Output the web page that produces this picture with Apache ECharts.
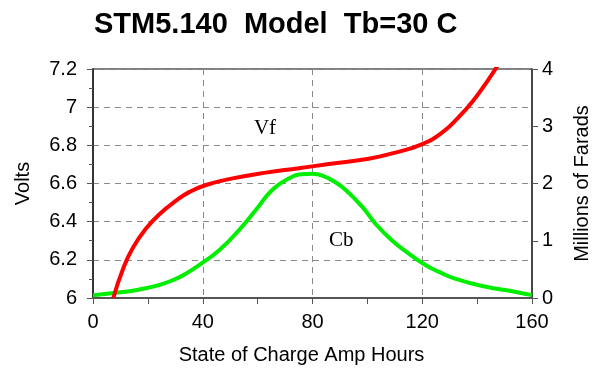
<!DOCTYPE html>
<html>
<head>
<meta charset="utf-8">
<script src="https://cdn.jsdelivr.net/npm/echarts@6/dist/echarts.min.js"></script>
<style>
  html, body { margin: 0; padding: 0; background: #fff; }
  #chart { width: 600px; height: 370px; }
</style>
</head>
<body>
<div id="chart"></div>
<script>
// State of charge (Ah) vs. float voltage Vf (left axis, volts)
const socVf = [7.4, 11, 14.6, 19.4, 24.3, 30.3, 35.2, 41.2, 50.9, 63, 75, 86, 100.5, 110.2, 119.8, 127.1, 133.1, 139.2, 144, 147.6];
const vfValues = [6.0, 6.155, 6.265, 6.365, 6.44, 6.51, 6.556, 6.592, 6.627, 6.657, 6.68, 6.702, 6.73, 6.762, 6.805, 6.865, 6.945, 7.046, 7.142, 7.221];

// State of charge (Ah) vs. bulk capacitance Cb (right axis, millions of farads)
const socCb = [0, 8.6, 17, 24.3, 30, 34, 38.8, 46.1, 53.3, 59.4, 65.4, 71.5, 76, 80, 84, 88, 92, 98, 102.9, 108.9, 115, 121, 125.9, 131.9, 142.8, 153.7, 160];
const cbValues = [0.05, 0.09, 0.15, 0.23, 0.33, 0.43, 0.58, 0.84, 1.19, 1.54, 1.89, 2.09, 2.16, 2.17, 2.13, 2.03, 1.89, 1.60, 1.30, 1.01, 0.78, 0.58, 0.46, 0.34, 0.20, 0.11, 0.05];

const xTicks = { min: 0, max: 160, interval: 40 };
const voltTicks = { min: 6, max: 7.2, interval: 0.2 };
const faradTicks = { min: 0, max: 4, interval: 1 };

const titleText = 'STM5.140  Model  Tb=30 C';

const pairs = (xs, ys) => xs.map((x, i) => [x, ys[i]]);

const sans = 'Liberation Sans';
const dash = { type: [6, 5], color: '#8a8a8a', width: 1 };

const chart = echarts.init(document.getElementById('chart'), null, { renderer: 'canvas' });
chart.setOption({
  animation: false,
  backgroundColor: '#fff',
  title: {
    text: titleText,
    left: 89,
    top: 5,
    textStyle: { fontFamily: sans, fontWeight: 'bold', fontSize: 29, color: '#000' }
  },
  grid: {
    left: 93, right: 66, top: 69, bottom: 72,
    show: true, borderColor: '#000', borderWidth: 1
  },
  xAxis: {
    type: 'value',
    min: xTicks.min, max: xTicks.max, interval: xTicks.interval,
    name: 'State of Charge Amp Hours',
    nameLocation: 'middle',
    nameGap: 47,
    nameTextStyle: { fontFamily: sans, fontSize: 20, color: '#000', padding: [0, 22, 0, 0] },
    axisLine: { show: true, onZero: false, lineStyle: { color: '#555', width: 2 } },
    axisTick: { show: true, length: 6, lineStyle: { color: '#555' } },
    minorTick: { show: true, splitNumber: 2, length: 6, lineStyle: { color: '#555' } },
    axisLabel: { fontFamily: sans, fontSize: 20, color: '#000', margin: 14 },
    splitLine: { show: true, lineStyle: dash }
  },
  yAxis: [
    {
      type: 'value',
      position: 'left',
      min: voltTicks.min, max: voltTicks.max, interval: voltTicks.interval,
      name: 'Volts',
      nameLocation: 'middle',
      nameRotate: 90,
      nameGap: 60,
      nameTextStyle: { fontFamily: sans, fontSize: 20, color: '#000' },
      axisLine: { show: true, lineStyle: { color: '#333', width: 2 } },
      axisTick: { show: true, length: 6, lineStyle: { color: '#555' } },
      minorTick: { show: true, splitNumber: 2, length: 4, lineStyle: { color: '#555' } },
      axisLabel: {
        fontFamily: sans, fontSize: 20, color: '#000', margin: 16,
        formatter: v => String(Math.round(v * 10) / 10)
      },
      splitLine: { show: true, lineStyle: dash }
    },
    {
      type: 'value',
      position: 'right',
      min: faradTicks.min, max: faradTicks.max, interval: faradTicks.interval,
      name: 'Millions of Farads',
      nameLocation: 'middle',
      nameRotate: 90,
      nameGap: 40,
      nameTextStyle: { fontFamily: sans, fontSize: 20, color: '#000' },
      axisLine: { show: true, lineStyle: { color: '#333', width: 1.5 } },
      axisTick: { show: true, length: 6, lineStyle: { color: '#555' } },
      axisLabel: { fontFamily: sans, fontSize: 20, color: '#000', margin: 10 },
      splitLine: { show: false }
    }
  ],
  series: [
    {
      name: 'Vf',
      type: 'line',
      yAxisIndex: 0,
      data: pairs(socVf, vfValues),
      smooth: 0.5,
      symbol: 'none',
      clip: true,
      lineStyle: { color: '#ff0000', width: 4 },
      markPoint: {
        symbol: 'circle', symbolSize: 0,
        label: { show: true, formatter: 'Vf', fontFamily: 'Liberation Serif', fontSize: 21, color: '#000' },
        data: [{ coord: [62.7, 6.89] }]
      },
      z: 3
    },
    {
      name: 'Cb',
      type: 'line',
      yAxisIndex: 1,
      data: pairs(socCb, cbValues),
      smooth: 0.5,
      symbol: 'none',
      lineStyle: { color: '#00ee00', width: 4 },
      markPoint: {
        symbol: 'circle', symbolSize: 0,
        label: { show: true, formatter: 'Cb', fontFamily: 'Liberation Serif', fontSize: 21, color: '#000' },
        data: [{ coord: [90.5, 1.0] }]
      },
      z: 2
    }
  ]
});
</script>
</body>
</html>
